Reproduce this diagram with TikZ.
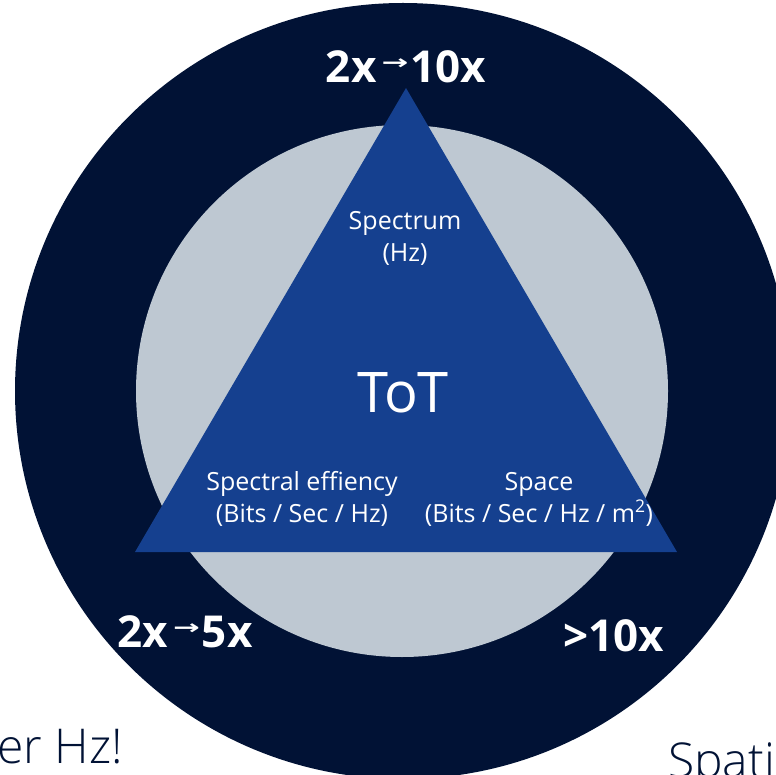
\documentclass[tikz,border=0pt]{standalone}
\usepackage{fontspec}
\setmainfont{Open Sans}
\newfontfamily\arrowfont{DejaVu Sans}
\newfontfamily\lightfont{Open Sans Light}
\definecolor{navy}{HTML}{011235}
\definecolor{ringgrey}{HTML}{BEC8D2}
\definecolor{triblue}{HTML}{15408F}
\newcommand{\upar}{\raisebox{13pt}{\scalebox{1.6}[1]{\arrowfont\fontsize{20}{20}\selectfont →}}}
\tikzset{
  lbl/.style={text=white, anchor=base, inner sep=0pt, font=\fontsize{25}{30}\selectfont},
  big/.style={text=white, anchor=base, inner sep=0pt, font=\fontsize{44}{44}\selectfont\bfseries},
  side/.style={text=navy, anchor=base west, inner sep=0pt, font=\lightfont\fontsize{48}{48}\selectfont}
}
\begin{document}
\begin{tikzpicture}[x=1pt,y=-1pt]
\useasboundingbox (0,0) rectangle (776,775);
\clip (0,0) rectangle (776,775);
\fill[navy] (403,391) circle[radius=388pt];
\fill[ringgrey] (402,391) circle[radius=266pt];
\fill[triblue] (406,88) -- (135,552) -- (677,552) -- cycle;
\node[big] (top) at (406,83) {2x\hspace{5pt}\upar\hspace{2pt}10x};
\node[big] (left) at (185,647) {2x\hspace{5pt}\upar\hspace{2pt}5x};
\node[big] (right) at (614,651) {>10x};
\node[lbl] (spec) at (405,230) {Spectrum};
\node[lbl] (specu) at (405,262) {(Hz)};
\node[text=white, anchor=base, inner sep=0pt, font=\fontsize{56}{56}\selectfont] (tot) at (403,412) {ToT};
\node[lbl] (eff) at (302,490) {Spectral effiency};
\node[lbl] (effu) at (302,522) {(Bits / Sec / Hz)};
\node[lbl] (space) at (539,490) {Space};
\node[lbl] (spaceu) at (539,522) {(Bits / Sec / Hz / m\textsuperscript{2})};
\node[side] (hz) at (-3,763) {er Hz!};
\node[side] (spati) at (668,777) {Spati};
\end{tikzpicture}
\end{document}
